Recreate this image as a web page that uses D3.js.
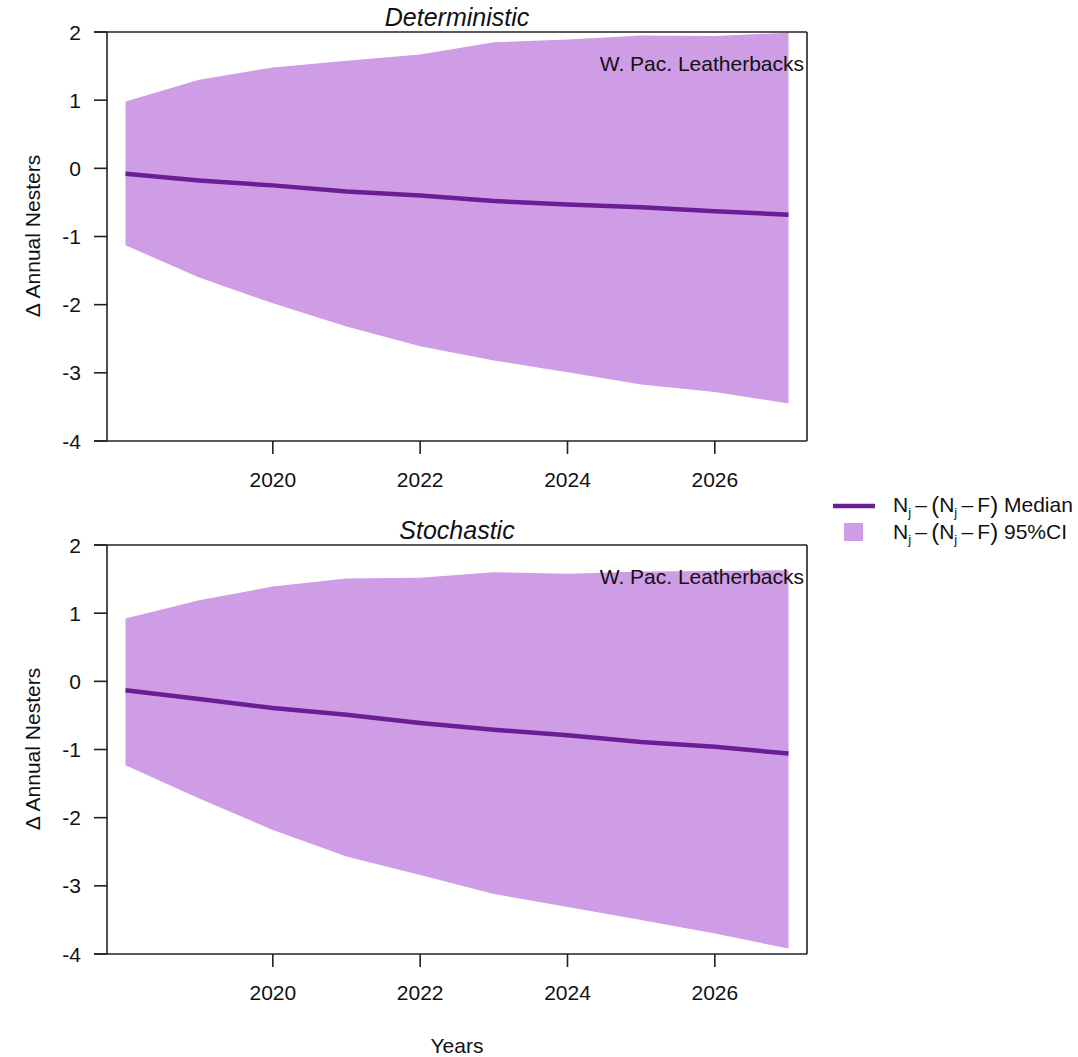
<!DOCTYPE html>
<html><head><meta charset="utf-8">
<script src="https://cdn.jsdelivr.net/npm/d3@7"></script>
<style>body{margin:0;background:#fff}svg{display:block;font-family:"Liberation Sans",Arial,sans-serif}</style>
</head><body>
<svg id="c" width="1078" height="1057"></svg>
<script>
const years = [2018,2019,2020,2021,2022,2023,2024,2025,2026,2027];
const detUpper = [0.98,1.30,1.48,1.58,1.67,1.85,1.89,1.95,1.94,1.99];
const detLower = [-1.13,-1.60,-1.98,-2.32,-2.61,-2.82,-2.99,-3.17,-3.28,-3.45];
const detMedian = [-0.08,-0.18,-0.25,-0.34,-0.40,-0.48,-0.53,-0.57,-0.63,-0.68];
const stoUpper = [0.92,1.19,1.39,1.51,1.52,1.60,1.58,1.61,1.62,1.63];
const stoLower = [-1.23,-1.72,-2.18,-2.57,-2.84,-3.12,-3.31,-3.50,-3.70,-3.92];
const stoMedian = [-0.13,-0.26,-0.39,-0.49,-0.61,-0.71,-0.79,-0.89,-0.96,-1.06];
const xTicks = [2020,2022,2024,2026];
const yTicks = [2,1,0,-1,-2,-3,-4];
const panelTitles = ["Deterministic","Stochastic"];
const regionLabel = "W. Pac. Leatherbacks";

const fillCol = "#CF9CE6", lineCol = "#6A1E96";
const svg = d3.select("#c");
const x = d3.scaleLinear().domain([2018,2027]).range([125.5,788.5]);

function panel(top, title, up, lo, med){
  const y = d3.scaleLinear().domain([-4,2]).range([top+409, top]);
  const g = svg.append("g");
  const data = years.map((yr,i)=>({yr, u:up[i], l:lo[i], m:med[i]}));
  g.append("path").datum(data)
    .attr("d", d3.area().x(d=>x(d.yr)).y0(d=>y(d.l)).y1(d=>y(d.u)))
    .attr("fill", fillCol);
  g.append("path").datum(data)
    .attr("d", d3.line().x(d=>x(d.yr)).y(d=>y(d.m)))
    .attr("fill","none").attr("stroke",lineCol).attr("stroke-width",4.5).attr("stroke-linecap","butt");
  const bx0 = 94, bx1 = 807, ax = 107;
  const ln = (x1,y1,x2,y2)=>g.append("line").attr("x1",x1).attr("y1",y1).attr("x2",x2).attr("y2",y2).attr("stroke","#222").attr("stroke-width",1.6);
  ln(bx0, y(2), bx1, y(2));
  ln(bx0, y(-4), bx1, y(-4));
  ln(bx1, y(2), bx1, y(-4));
  ln(ax, y(2), ax, y(-4));
  yTicks.forEach(t=>{
    ln(bx0, y(t), ax, y(t));
    g.append("text").attr("x",81).attr("y",y(t)).attr("dy","0.36em").attr("text-anchor","end")
      .attr("font-size",21).attr("fill","#111").text(String(t));
  });
  xTicks.forEach(t=>{
    ln(x(t), y(-4), x(t), y(-4)+13);
    g.append("text").attr("x",x(t)).attr("y",y(-4)+46).attr("text-anchor","middle")
      .attr("font-size",21).attr("fill","#111").text(t);
  });
  g.append("text").attr("x",457).attr("y",top-6).attr("text-anchor","middle")
    .attr("font-size",25).attr("font-style","italic").attr("fill","#111").text(title);
  g.append("text").attr("x",804).attr("y",top+39).attr("text-anchor","end")
    .attr("font-size",21).attr("fill","#111").text(regionLabel);
  g.append("text").attr("transform",`translate(40,${top+204}) rotate(-90)`).attr("text-anchor","middle")
    .attr("font-size",21).attr("fill","#111").text("\u0394 Annual Nesters");
}
panel(32, panelTitles[0], detUpper, detLower, detMedian);
panel(545, panelTitles[1], stoUpper, stoLower, stoMedian);

svg.append("text").attr("x",457).attr("y",1053).attr("text-anchor","middle")
  .attr("font-size",21).attr("fill","#111").text("Years");

// legend
const legendLabels = ["Median","95%CI"];
function mathLabel(yb, suffix){
  const t = svg.append("text").attr("x",893).attr("y",yb).attr("font-size",21).attr("fill","#111");
  t.append("tspan").text("N");
  t.append("tspan").attr("font-size",13).attr("dy",5).text("j");
  t.append("tspan").attr("dy",-5).text("\u2009\u2013\u2009");
  t.append("tspan").attr("font-size",24).attr("dy",1).text("(");
  t.append("tspan").attr("dy",-1).text("N");
  t.append("tspan").attr("font-size",13).attr("dy",5).text("j");
  t.append("tspan").attr("dy",-5).text("\u2009\u2013\u2009F");
  t.append("tspan").attr("font-size",24).attr("dy",1).text(")");
  t.append("tspan").attr("dy",-1).text(" " + suffix);
}
svg.append("line").attr("x1",833).attr("x2",875).attr("y1",506).attr("y2",506)
  .attr("stroke",lineCol).attr("stroke-width",4.5);
mathLabel(512, legendLabels[0]);
svg.append("rect").attr("x",844).attr("y",523).attr("width",19).attr("height",18).attr("fill",fillCol);
mathLabel(539, legendLabels[1]);
</script>
</body></html>
